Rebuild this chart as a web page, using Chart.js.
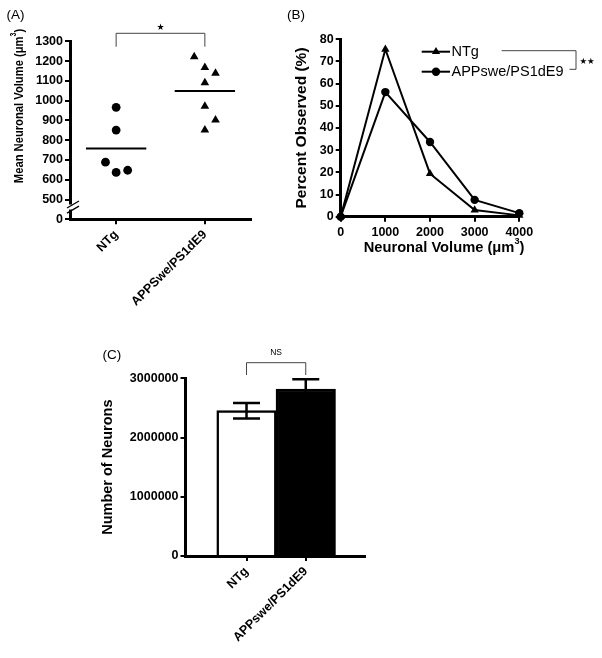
<!DOCTYPE html>
<html>
<head>
<meta charset="utf-8">
<script src="https://cdn.jsdelivr.net/npm/chart.js@4.4.1/dist/chart.umd.min.js"></script>
<style>
  html, body { margin: 0; padding: 0; background: #fff; }
  body { position: relative; width: 602px; height: 658px; overflow: hidden; }
  canvas { position: absolute; }
  #chartA { left: 0; top: 0; }
  #chartB { left: 280px; top: 0; }
  #chartC { left: 0; top: 330px; }
</style>
</head>
<body>
<canvas id="chartA" width="280" height="330"></canvas>
<canvas id="chartB" width="322" height="280"></canvas>
<canvas id="chartC" width="400" height="328"></canvas>
<script>
// (A) mean neuronal volume, one point per animal
const groupsA = ["NTg", "APPSwe/PS1dE9"];
const ntgVolume = [966, 851, 689, 637, 648];
const ntgJitter = [0, 0, -0.12, 0, 0.13];
const appVolume = [1222, 1168, 1138, 1090, 972, 902, 851];
const appJitter = [-0.12, 0, 0.12, 0, 0, 0.12, 0];
const volumeTicks = [400, 500, 600, 700, 800, 900, 1000, 1100, 1200, 1300]; // 400 is printed as "0" under the break

// (B) distribution of neuronal volume
const volumeBins = [0, 1000, 2000, 3000, 4000];
const ntgPercent = [0, 75.5, 19.4, 3.0, 0.6];
const appPercent = [0, 56.2, 33.7, 7.6, 1.6];

// (C) total number of neurons (mean +/- SEM)
const groupsC = ["NTg", "APPswe/PS1dE9"];
const neuronMean = [2453000, 2820000];
const neuronSem = [132000, 163000];

const FONT = "'Liberation Sans', Arial, sans-serif";
Chart.defaults.font.family = FONT;
Chart.defaults.color = "#000";
Chart.defaults.animation = false;
Chart.defaults.plugins.legend.display = false;
Chart.defaults.plugins.tooltip.enabled = false;

const tickFont = { size: 12.5, weight: "bold" };
const axisGrid = { drawOnChartArea: false, color: "#000", lineWidth: 2, tickLength: 5 };
const axisBorder = { color: "#000", width: 3 };

function meanOf(arr) {
    return arr.reduce((s, v) => s + v, 0) / arr.length;
}

function panelLabel(ctx, text, x, y) {
    ctx.save();
    ctx.font = "13.5px " + FONT;
    ctx.fillStyle = "#000";
    ctx.textBaseline = "middle";
    ctx.fillText(text, x, y);
    ctx.restore();
}

// bold title with a superscript "3"; squeeze < 1 narrows the text along its run
function supTitle(ctx, cx, cy, rot, base, sup, tail, size, squeeze) {
    const f = "bold " + size + "px " + FONT;
    const fs = "bold " + (size * 0.62) + "px " + FONT;
    ctx.save();
    ctx.translate(cx, cy);
    ctx.rotate(rot);
    ctx.scale(squeeze || 1, 1);
    ctx.font = f;
    const w1 = ctx.measureText(base).width, w3 = ctx.measureText(tail).width;
    ctx.font = fs;
    const w2 = ctx.measureText(sup).width;
    let x = -(w1 + w2 + w3) / 2;
    ctx.fillStyle = "#000";
    ctx.textBaseline = "middle";
    ctx.font = f; ctx.fillText(base, x, 0); x += w1;
    ctx.font = fs; ctx.fillText(sup, x, -size * 0.38); x += w2;
    ctx.font = f; ctx.fillText(tail, x, 0);
    ctx.restore();
}

function bracket(ctx, x1, x2, yTop, yLeg) {
    ctx.save();
    ctx.strokeStyle = "#444";
    ctx.lineWidth = 1;
    ctx.beginPath();
    ctx.moveTo(x1, yLeg); ctx.lineTo(x1, yTop); ctx.lineTo(x2, yTop); ctx.lineTo(x2, yLeg);
    ctx.stroke();
    ctx.restore();
}

function marker(ctx, style, x, y, r) {
    ctx.beginPath();
    if (style === "triangle") {
        for (let k = 0; k < 3; k++) {
            const a = k * 2 * Math.PI / 3;
            const px = x + Math.sin(a) * r, py = y - Math.cos(a) * r;
            k === 0 ? ctx.moveTo(px, py) : ctx.lineTo(px, py);
        }
        ctx.closePath();
    } else {
        ctx.arc(x, y, r, 0, 2 * Math.PI);
    }
    ctx.fill();
}

// ---------- (A) ----------
const halfMean = 0.34;
new Chart(document.getElementById("chartA"), {
    type: "scatter",
    data: {
        datasets: [
            {
                data: ntgVolume.map((v, i) => ({ x: 1 + ntgJitter[i], y: v })),
                pointStyle: "circle", pointRadius: 4.4, backgroundColor: "#000", borderWidth: 0
            },
            {
                data: appVolume.map((v, i) => ({ x: 2 + appJitter[i], y: v })),
                pointStyle: "triangle", pointRadius: 5, backgroundColor: "#000", borderWidth: 0
            },
            {
                data: [{ x: 1 - halfMean, y: meanOf(ntgVolume) }, { x: 1 + halfMean, y: meanOf(ntgVolume) }],
                showLine: true, pointRadius: 0, borderColor: "#000", borderWidth: 2
            },
            {
                data: [{ x: 2 - halfMean, y: meanOf(appVolume) }, { x: 2 + halfMean, y: meanOf(appVolume) }],
                showLine: true, pointRadius: 0, borderColor: "#000", borderWidth: 2
            }
        ]
    },
    options: {
        responsive: false,
        layout: { padding: { left: 11, top: 41.3, right: 29, bottom: 0 } },
        scales: {
            x: {
                type: "linear", min: 0.48, max: 2.52,
                afterBuildTicks: s => { s.ticks = groupsA.map((g, i) => ({ value: i + 1 })); },
                afterFit: s => { s.height = 110.7; },
                ticks: {
                    callback: v => groupsA[Math.round(v) - 1],
                    minRotation: 45, maxRotation: 45, autoSkip: false, font: tickFont, padding: 3
                },
                grid: axisGrid, border: axisBorder
            },
            y: {
                min: 400, max: 1300,
                afterBuildTicks: s => { s.ticks = volumeTicks.map(v => ({ value: v })); },
                afterFit: s => { s.width = 59; },
                ticks: { callback: v => (v === 400 ? "0" : String(v)), font: tickFont, padding: 2 },
                grid: axisGrid, border: axisBorder
            }
        }
    },
    plugins: [{
        id: "panelA",
        afterDraw(chart) {
            const ctx = chart.ctx, x = chart.scales.x, y = chart.scales.y, area = chart.chartArea;
            // axis break between 500 and 0
            const x0 = area.left, yb = y.getPixelForValue(462);
            ctx.save();
            ctx.fillStyle = "#fff";
            ctx.fillRect(x0 - 3, yb - 2.5, 6, 5);
            ctx.strokeStyle = "#000";
            ctx.lineWidth = 1.3;
            for (const d of [-2.6, 2.6]) {
                ctx.beginPath();
                ctx.moveTo(x0 - 3, yb + d + 3.5);
                ctx.lineTo(x0 + 9, yb + d - 3.5);
                ctx.stroke();
            }
            ctx.restore();
            // significance bracket
            const x1 = x.getPixelForValue(1), x2 = x.getPixelForValue(2);
            bracket(ctx, x1, x2, area.top - 8, area.top + 5.4);
            ctx.save();
            ctx.font = "9px 'DejaVu Sans'";
            ctx.textAlign = "center";
            ctx.textBaseline = "middle";
            ctx.fillStyle = "#000";
            ctx.fillText("\u2605", (x1 + x2) / 2, area.top - 13.5);
            ctx.restore();
            supTitle(ctx, 19, 106, -Math.PI / 2, "Mean Neuronal Volume (\u03bcm", "3", ")", 13.5, 0.83);
            panelLabel(ctx, "(A)", 6.5, 15);
        }
    }]
});

// ---------- (B) ----------
new Chart(document.getElementById("chartB"), {
    type: "line",
    data: {
        datasets: [
            {
                label: "NTg",
                data: volumeBins.map((v, i) => ({ x: v, y: ntgPercent[i] })),
                borderColor: "#000", backgroundColor: "#000", borderWidth: 2,
                pointStyle: "triangle", pointRadius: 4.8, pointBorderWidth: 0, clip: false
            },
            {
                label: "APPswe/PS1dE9",
                data: volumeBins.map((v, i) => ({ x: v, y: appPercent[i] })),
                borderColor: "#000", backgroundColor: "#000", borderWidth: 2,
                pointStyle: "circle", pointRadius: 4.2, pointBorderWidth: 0, clip: false
            }
        ]
    },
    options: {
        responsive: false,
        layout: { padding: { left: 12.4, top: 39.3, right: 82.7, bottom: 0 } },
        scales: {
            x: {
                type: "linear", min: 0, max: 4000,
                afterFit: s => { s.height = 63.3; },
                ticks: { stepSize: 1000, callback: v => String(v), font: tickFont, padding: 3 },
                grid: axisGrid, border: axisBorder
            },
            y: {
                min: 0, max: 80,
                afterFit: s => { s.width = 48.3; },
                ticks: { stepSize: 10, font: tickFont, padding: 2 },
                title: { display: true, text: "Percent Observed (%)", font: { size: 15.5, weight: "bold" }, padding: 0 },
                grid: axisGrid, border: axisBorder
            }
        }
    },
    plugins: [{
        id: "panelB",
        afterDraw(chart) {
            const ctx = chart.ctx;
            const rows = chart.data.datasets.map((ds, i) => ({ ds, y: 51.7 + i * 20 }));
            ctx.save();
            ctx.fillStyle = "#000";
            ctx.strokeStyle = "#000";
            for (const row of rows) {
                ctx.lineWidth = 2;
                ctx.beginPath();
                ctx.moveTo(141.7, row.y);
                ctx.lineTo(170, row.y);
                ctx.stroke();
                marker(ctx, row.ds.pointStyle, 156, row.y, row.ds.pointRadius);
                ctx.font = "14.5px " + FONT;
                ctx.textBaseline = "middle";
                ctx.fillText(row.ds.label, 171.5, row.y);
            }
            ctx.restore();
            // ** bracket beside the legend
            ctx.save();
            ctx.strokeStyle = "#444";
            ctx.lineWidth = 1;
            ctx.beginPath();
            ctx.moveTo(221.7, 50.7); ctx.lineTo(296, 50.7); ctx.lineTo(296, 69.3); ctx.lineTo(289.5, 69.3);
            ctx.stroke();
            ctx.font = "8.5px 'DejaVu Sans'";
            ctx.textBaseline = "middle";
            ctx.fillStyle = "#000";
            ctx.fillText("\u2605\u2605", 299.5, 61.7);
            ctx.restore();
            supTitle(ctx, 164, 247.5, 0, "Neuronal Volume (\u03bcm", "3", ")", 14.7);
            panelLabel(ctx, "(B)", 7, 15);
        }
    }]
});

// ---------- (C) ----------
new Chart(document.getElementById("chartC"), {
    type: "bar",
    data: {
        datasets: [{
            data: neuronMean.map((v, i) => ({ x: i + 1, y: v })),
            backgroundColor: ["#fff", "#000"],
            borderColor: "#000",
            borderWidth: 2.5,
            barThickness: 59.5
        }]
    },
    options: {
        responsive: false,
        layout: { padding: { left: 99.3, top: 48.3, right: 35, bottom: 0 } },
        scales: {
            x: {
                type: "linear", min: -0.03, max: 3.0, offset: false,
                afterBuildTicks: s => { s.ticks = groupsC.map((g, i) => ({ value: i + 1 })); },
                afterFit: s => { s.height = 102; },
                ticks: {
                    callback: v => groupsC[Math.round(v) - 1],
                    minRotation: 45, maxRotation: 45, autoSkip: false, font: tickFont, padding: 3
                },
                grid: { ...axisGrid, offset: false }, border: axisBorder
            },
            y: {
                min: 0, max: 3000000,
                afterFit: s => { s.width = 86.2; },
                ticks: { stepSize: 1000000, callback: v => String(v), font: tickFont, padding: 2 },
                title: { display: true, text: "Number of Neurons", font: { size: 14.5, weight: "bold" }, padding: 0 },
                grid: axisGrid, border: axisBorder
            }
        }
    },
    plugins: [{
        id: "panelC",
        afterDatasetsDraw(chart) {
            const ctx = chart.ctx, x = chart.scales.x, y = chart.scales.y;
            ctx.save();
            ctx.strokeStyle = "#000";
            ctx.lineWidth = 2.5;
            neuronMean.forEach((m, i) => {
                const px = x.getPixelForValue(i + 1);
                const hi = y.getPixelForValue(m + neuronSem[i]);
                const lo = y.getPixelForValue(m - neuronSem[i]);
                ctx.beginPath();
                ctx.moveTo(px, lo); ctx.lineTo(px, hi);
                ctx.moveTo(px - 13.5, hi); ctx.lineTo(px + 13.5, hi);
                ctx.moveTo(px - 13.5, lo); ctx.lineTo(px + 13.5, lo);
                ctx.stroke();
            });
            ctx.restore();
        },
        afterDraw(chart) {
            const ctx = chart.ctx, x = chart.scales.x, area = chart.chartArea;
            const x1 = x.getPixelForValue(1), x2 = x.getPixelForValue(2);
            bracket(ctx, x1, x2, area.top - 15.6, area.top - 3.3);
            ctx.save();
            ctx.font = "8.5px " + FONT;
            ctx.textAlign = "center";
            ctx.textBaseline = "middle";
            ctx.fillStyle = "#000";
            ctx.fillText("NS", (x1 + x2) / 2, area.top - 26);
            ctx.restore();
            panelLabel(ctx, "(C)", 102.5, 25);
        }
    }]
});
</script>
</body>
</html>
